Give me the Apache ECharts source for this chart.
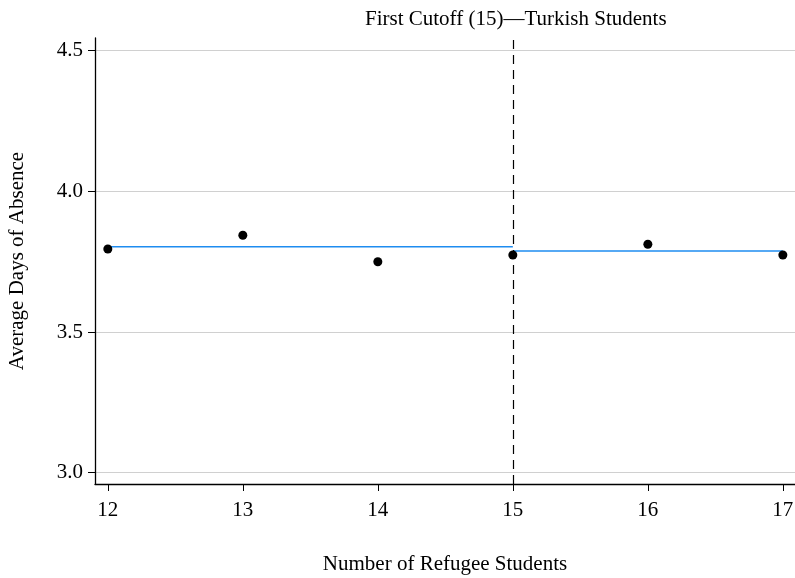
<!DOCTYPE html>
<html>
<head>
<meta charset="utf-8">
<script src="https://cdn.jsdelivr.net/npm/echarts@6/dist/echarts.min.js"></script>
<style>
  html, body { margin: 0; padding: 0; background: #fff; }
  #chart { width: 795px; height: 578px; }
</style>
</head>
<body>
<div id="chart"></div>
<script>
// refugee student counts and average absence
var xValues = [12, 13, 14, 15, 16, 17];
var absence = [3.795, 3.844, 3.750, 3.774, 3.812, 3.774];
// fitted lines each side of the cutoff
var fitLeft = [[12, 3.803], [15, 3.803]];
var fitRight = [[15, 3.788], [17, 3.788]];
var cutoff = 15;
var yTicks = [3.0, 3.5, 4.0, 4.5];

var serif = '"Liberation Serif", "DejaVu Serif", serif';

var myChart = echarts.init(document.getElementById('chart'));
var option = {
    animation: false,
    title: {
        text: 'First Cutoff (15)\u2014Turkish Students',
        left: 360, top: 4,
        textStyle: { fontFamily: serif, fontSize: 21, fontWeight: 'normal', color: '#000' }
    },
    grid: { left: 95, right: 0, top: 38, bottom: 94, outerBoundsMode: 'none' },
    xAxis: {
        type: 'value',
        min: 11.905, max: 17.09,
        name: 'Number of Refugee Students',
        nameLocation: 'middle', nameGap: 70,
        nameTextStyle: { fontFamily: serif, fontSize: 21, color: '#000' },
        axisLine: { lineStyle: { color: '#000', width: 1.3 } },
        axisTick: { length: 7, lineStyle: { color: '#000' }, customValues: xValues },
        axisLabel: { fontFamily: serif, fontSize: 21, color: '#000', margin: 16, customValues: xValues },
        splitLine: { show: false }
    },
    yAxis: {
        type: 'value',
        min: 2.96, max: 4.545,
        name: 'Average Days of Absence',
        nameLocation: 'middle', nameGap: 67,
        nameTextStyle: { fontFamily: serif, fontSize: 21, color: '#000' },
        axisLine: { show: true, lineStyle: { color: '#000', width: 1.3 } },
        axisTick: { show: true, length: 7, lineStyle: { color: '#000' }, customValues: yTicks },
        axisLabel: {
            fontFamily: serif, fontSize: 21, color: '#000', margin: 12,
            customValues: yTicks,
            formatter: function (v) { return v.toFixed(1); }
        },
        splitLine: { show: true, lineStyle: { color: '#d0d0d0', width: 1 }, customValues: yTicks }
    },
    series: [
        {
            type: 'line', data: fitLeft, showSymbol: false,
            lineStyle: { color: '#1e8cf0', width: 1.5 },
            markLine: {
                silent: true, symbol: 'none', label: { show: false },
                lineStyle: { color: '#000', type: [9, 6], width: 1.2 },
                data: [{ xAxis: cutoff }]
            }
        },
        {
            type: 'line', data: fitRight, showSymbol: false,
            lineStyle: { color: '#1e8cf0', width: 1.5 }
        },
        {
            type: 'scatter',
            data: xValues.map(function (x, i) { return [x, absence[i]]; }),
            symbolSize: 9,
            itemStyle: { color: '#000', opacity: 1 },
            z: 5
        }
    ]
};
myChart.setOption(option);
</script>
</body>
</html>
